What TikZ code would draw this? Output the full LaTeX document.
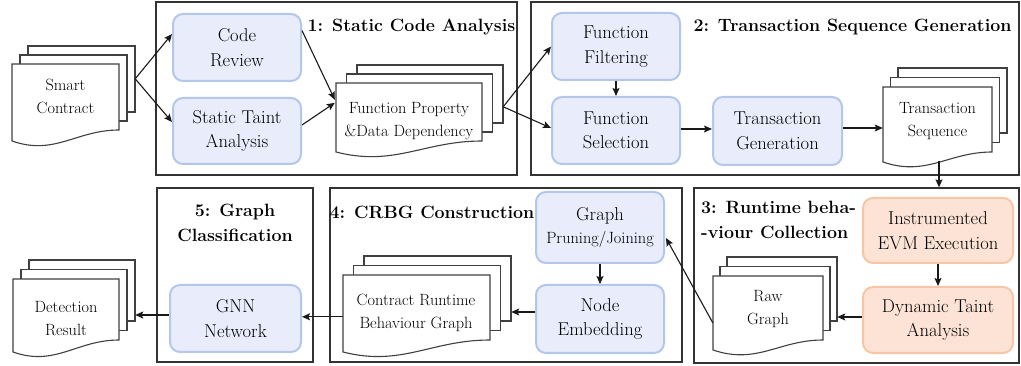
\documentclass[tikz,border=0pt]{standalone}
\usetikzlibrary{arrows.meta,calc,fit}
\definecolor{bfill}{HTML}{E8ECFB}
\definecolor{bdraw}{HTML}{B3C7EA}
\definecolor{ofill}{HTML}{FDE3D5}
\definecolor{odraw}{HTML}{F6C6A6}
\definecolor{fline}{HTML}{333333}
\definecolor{dline}{HTML}{404040}
\newcommand\docstack[8]{%
  \draw[docline] ({#2+2*#7},{#3-2*#8}) rectangle ({#4+2*#7},{#5-2*#8});
  \draw[docline] ({#2+#7},{#3-#8}) rectangle ({#4+#7},{#5-#8});
  \draw[docline] (#2,#6) -- (#2,#3) -- (#4,#3) -- (#4,#5)
     .. controls ({#4-0.4*(#4-#2)},#5) and ({#2+0.4*(#4-#2)},{#6+15}) .. (#2,#6) -- cycle;
  \node[fit={(#2,{#3-2*#8}) ({#4+2*#7},#6)},inner sep=0pt] (#1) {};
}
\begin{document}
\begin{tikzpicture}[x=1pt,y=-1pt,
  frame/.style={draw=fline,line width=1.3pt,inner sep=0pt},
  docline/.style={draw=dline,line width=1.1pt,fill=white},
  proc/.style={rounded corners=10pt,line width=2pt,align=center,inner sep=0pt,
     font=\fontsize{18.6}{24.6}\selectfont},
  bproc/.style={proc,draw=bdraw,fill=bfill},
  oproc/.style={proc,draw=odraw,fill=ofill},
  title/.style={font=\fontsize{17.8}{25}\selectfont\bfseries,inner sep=0pt},
  doctext/.style={align=center,inner sep=0pt,font=\fontsize{16.3}{23}\selectfont},
  arr/.style={-{Stealth[length=8pt,width=7pt,inset=1.5pt]},line width=1.1pt,draw=black!90}]
\useasboundingbox (0,0) rectangle (1021,366);

% stage frames
\node[frame,minimum width=361pt,minimum height=173pt] (s1) at (336.5,88.5) {};
\node[frame,minimum width=488pt,minimum height=173pt] (s2) at (775,88.5) {};
\node[frame,minimum width=325pt,minimum height=175pt] (s3) at (856.5,275.5) {};
\node[frame,minimum width=352pt,minimum height=174pt] (s4) at (506,275) {};
\node[frame,minimum width=156pt,minimum height=174pt] (s5) at (235,275) {};

% titles
\node[title] (t1) at (411.5,27) {1: Static Code Analysis};
\node[title] (t2) at (852.5,27) {2: Transaction Sequence Generation};
\node[title,align=left,anchor=west] (t3) at (701,219.5) {3: Runtime beha-\\-viour Collection};
\node[title] (t4) at (432,212) {4: CRBG Construction};
\node[title,align=center] (t5) at (235,222.5) {5: Graph\\Classification};

% documents
\docstack{sc}{12}{64}{119}{130}{141}{8}{9}
\node[doctext] (sct) at (65.5,96) {Smart\\Contract};
\docstack{fp}{336}{83}{482}{141}{152}{10.5}{9}
\node[doctext] (fpt) at (409,121.5) {Function Property\\\&Data Dependency};
\docstack{ts}{883}{87}{992}{152}{162}{7.5}{9.5}
\node[doctext] (tst) at (937.5,121.5) {Transaction\\Sequence};
\docstack{rg}{713}{276}{823}{340}{350}{7}{9.5}
\node[doctext] (rgt) at (768,309) {Raw\\Graph};
\docstack{crbg}{343}{275}{490}{340}{352}{10.5}{9.5}
\node[doctext] (crbgt) at (416,313) {Contract Runtime\\Behaviour Graph};
\docstack{dr}{13}{279}{119}{340}{352}{8}{9.5}
\node[doctext] (drt) at (66,319) {Detection\\Result};

% process nodes
\node[bproc,minimum width=128pt,minimum height=67pt] (cr) at (237,47.5) {Code\\Review};
\node[bproc,minimum width=128pt,minimum height=66pt] (sta) at (237,131) {Static Taint\\Analysis};
\node[bproc,minimum width=128pt,minimum height=67pt] (ff) at (616,46.5) {Function\\Filtering};
\node[bproc,minimum width=128pt,minimum height=67pt] (fs) at (616,130.5) {Function\\Selection};
\node[bproc,minimum width=129pt,minimum height=68pt] (tg) at (777.5,131) {Transaction\\Generation};
\node[oproc,minimum width=150pt,minimum height=65pt] (iee) at (938,230.5) {Instrumented\\EVM Execution};
\node[oproc,minimum width=150pt,minimum height=66pt] (dta) at (938,320) {Dynamic Taint\\Analysis};
\node[bproc,minimum width=128pt,minimum height=71pt,font=\fontsize{16.3}{23}\selectfont] (gpj) at (600,227.5) {{\fontsize{18.6}{23}\selectfont Graph}\\Pruning/Joining};
\node[bproc,minimum width=128pt,minimum height=68pt] (ne) at (600,319) {Node\\Embedding};
\node[bproc,minimum width=131pt,minimum height=67pt] (gnn) at (235.5,318.5) {GNN\\Network};

% connectors
\draw[arr] ($(sc.north east)+(0,33)$) -- ($(cr.west)+(0,-13.5)$);
\draw[arr] ($(sc.north east)+(0,33)$) -- ($(sta.west)+(0,-9)$);
\draw[arr] ($(cr.east)+(0,-17)$) -- ($(fp.north west)+(-1,35)$);
\draw[arr] ($(sta.east)+(0,-6)$) -- ($(fp.north west)+(-1,38)$);
\draw[arr] ($(fp.north east)+(0,42)$) -- (ff.west);
\draw[arr] ($(fp.north east)+(0,42)$) -- ($(fs.west)+(0,-2.5)$);
\draw[arr] (ff.south) -- (fs.north);
\coordinate (p8) at ($(fs.east)+(0,-1.5)$);
\draw[arr] (p8) -- (p8 -| tg.west);
\coordinate (p9) at ($(tg.east)+(0,-3)$);
\draw[arr] (p9) -- (p9 -| ts.west);
\coordinate (tsb) at (939,161);
\draw[arr] (tsb) -- (tsb |- s3.north);
\draw[arr] (iee.south) -- (dta.north);
\coordinate (p12) at ($(dta.west)+(0,-3)$);
\draw[arr] (p12) -- (p12 -| rg.east);
\draw[arr] ($(rg.north west)+(0,66)$) -- ($(gpj.east)+(1,10.5)$);
\draw[arr] (gpj.south) -- (ne.north);
\coordinate (p15) at ($(ne.west)+(0,-7)$);
\draw[arr] (p15) -- (p15 -| crbg.east);
\coordinate (p16) at ($(crbg.north west)+(0,61)$);
\draw[arr] (p16) -- (p16 -| gnn.east);
\coordinate (p17) at ($(gnn.west)+(0,-3.5)$);
\draw[arr] (p17) -- (p17 -| dr.east);
\end{tikzpicture}
\end{document}
